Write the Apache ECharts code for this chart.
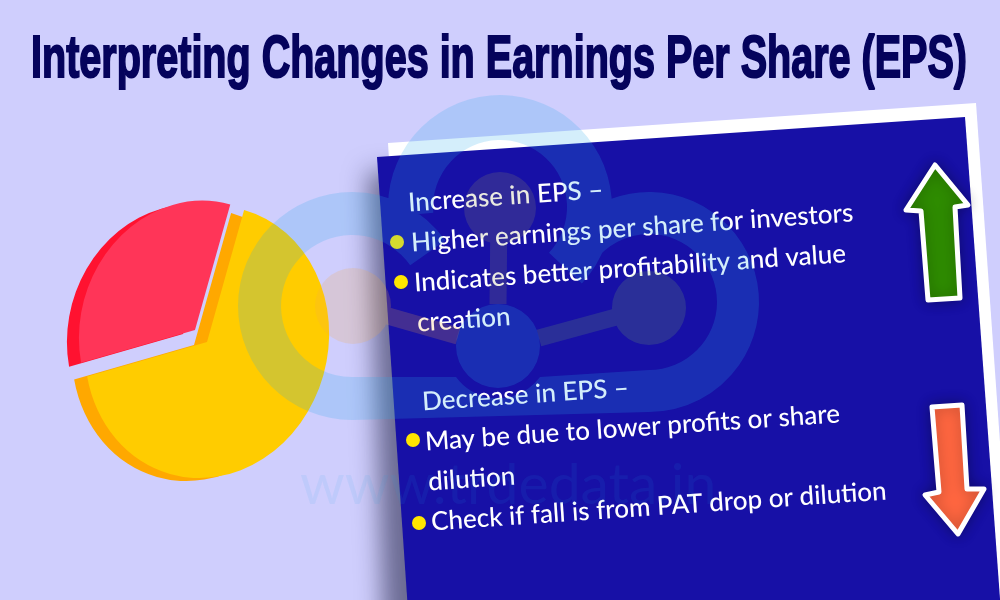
<!DOCTYPE html>
<html>
<head>
<meta charset="utf-8">
<style>html,body{margin:0;padding:0;background:#cfcefd}#chart{width:1000px;height:600px}</style>
<script src="https://cdn.jsdelivr.net/npm/echarts@6/dist/echarts.min.js"></script>
</head>
<body>
<div id="chart"></div>
<script>
var titleText = "Interpreting Changes in Earnings Per Share (EPS)";
var watermarkText = "www.trdedata.in";
var pieCategories = ["Red share", "Yellow share"];
var pieValues = [33, 67];
var panelLines = [
    "Increase in EPS \u2013",
    "Higher earnings per share for investors",
    "Indicates better profitability and value",
    "creation",
    "Decrease in EPS \u2013",
    "May be due to lower profits or share",
    "dilution",
    "Check if fall is from PAT drop or dilution"
];

// left end of each text baseline, same order as panelLines
var lineAnchors = [[409,216],[412,256],[415,296],[418,336],[423,415],[426,455],[429,495],[432,535]];
var bulletAnchors = [[397,242],[401,282],[413,440],[419,523]];
var tilt = Math.atan(0.068);

// the pie is drawn tilted in the original, so its slices are squashed sectors
function sliceLayer(index, cx, cy, radius, color) {
    return {
        type: "custom",
        coordinateSystem: "none",
        silent: true,
        dimensions: ["share"],
        data: pieValues.map(function (v, i) { return { name: pieCategories[i], value: [v] }; }),
        renderItem: function (params, api) {
            if (params.dataIndex !== index) return;
            var total = pieValues.reduce(function (s, v) { return s + v; }, 0);
            var before = pieValues.slice(0, index).reduce(function (s, v) { return s + v; }, 0);
            var toRad = Math.PI / 180;
            var end = -89.2 - before / total * 360;
            var start = end - api.value(0) / total * 360;
            return {
                type: "sector",
                x: cx,
                y: cy,
                rotation: -15 * toRad,
                scaleY: 1.133,
                shape: { cx: 0, cy: 0, r0: 0, r: radius, startAngle: start * toRad, endAngle: end * toRad, clockwise: true },
                style: { fill: color }
            };
        }
    };
}

// annular sector, always wound clockwise so overlaps stay a single flat fill
function ringD(cx, cy, R, r, from, to) {
    var a = from * Math.PI / 180, b = to * Math.PI / 180;
    var large = (to - from) > 180 ? 1 : 0;
    function p(rad, t) { return (cx + rad * Math.cos(t)).toFixed(1) + " " + (cy + rad * Math.sin(t)).toFixed(1); }
    return "M" + p(R, a) + " A" + R + " " + R + " 0 " + large + " 1 " + p(R, b) +
        " L" + p(r, b) + " A" + r + " " + r + " 0 " + large + " 0 " + p(r, a) + " Z ";
}
function circleD(cx, cy, r) {
    return "M" + (cx - r) + " " + cy + " A" + r + " " + r + " 0 1 1 " + (cx + r) + " " + cy +
        " A" + r + " " + r + " 0 1 1 " + (cx - r) + " " + cy + " Z ";
}
function barD(x1, y1, x2, y2, w) {
    var dx = x2 - x1, dy = y2 - y1, l = Math.sqrt(dx * dx + dy * dy);
    var nx = dy / l * w / 2, ny = -dx / l * w / 2;
    return "M" + (x1 + nx) + " " + (y1 + ny) + " L" + (x2 + nx) + " " + (y2 + ny) +
        " L" + (x2 - nx) + " " + (y2 - ny) + " L" + (x1 - nx) + " " + (y1 - ny) + " Z ";
}

echarts.graphic.registerShape("logoBlue", echarts.graphic.extendPath(
    ringD(352, 306, 114, 71, 90, 325) +
    ringD(500, 207, 112, 67, 175, 403) +
    ringD(649, 302, 110, 68, 215, 450) +
    "M352 377 L456 377 A52 52 0 0 0 540 377 L649 370 L649 412 L352 420 Z " +
    circleD(498, 346, 42)));
echarts.graphic.registerShape("logoLeft", echarts.graphic.extendPath(circleD(353, 306, 38) + barD(353, 306, 458, 336, 17)));
echarts.graphic.registerShape("logoTop", echarts.graphic.extendPath(circleD(500, 208, 36) + barD(499, 208, 498, 304, 17)));
echarts.graphic.registerShape("logoRight", echarts.graphic.extendPath(circleD(649, 308, 37) + barD(649, 308, 539, 338, 17)));

var graphics = [
    // panel drop shadow, the caster itself stays hidden under the panel
    { type: "polygon", z: 10, silent: true,
      shape: { points: [[412, 172], [500, 172], [500, 640], [428, 640]] },
      style: { fill: "#1710a6", shadowBlur: 24, shadowOffsetX: -44, shadowColor: "rgba(25,25,60,0.55)" } },
    { type: "polygon", z: 11, silent: true,
      shape: { points: [[388, 143], [976, 103], [1014, 640], [420, 640]] },
      style: { fill: "#ffffff" } },
    { type: "polygon", z: 12, silent: true,
      shape: { points: [[377, 157], [965, 117], [1003, 640], [410, 640]] },
      style: { fill: "#1710a6" } },
    { type: "polygon", z: 30, silent: true,
      shape: { points: [[935, 165], [968, 205], [955, 207], [960, 298], [928, 300], [921, 211], [906, 210]] },
      style: { fill: "#2e8b00", stroke: "#ffffff", lineWidth: 5, lineJoin: "round",
               shadowBlur: 14, shadowColor: "rgba(0,0,0,0.3)" } },
    { type: "polygon", z: 30, silent: true,
      shape: { points: [[932, 407], [962, 405], [967, 489], [984, 489], [958, 534], [925, 495], [939, 492]] },
      style: { fill: "#ff6640", stroke: "#ffffff", lineWidth: 5, lineJoin: "round",
               shadowBlur: 14, shadowColor: "rgba(0,0,0,0.3)" } },
    { type: "text", z: 30, silent: true, x: 499, y: 60, scaleX: 0.659,
      style: { text: titleText, fill: "#05035c", stroke: "#05035c", lineWidth: 2,
               font: "bold 60px 'Liberation Sans'",
               textAlign: "center", textVerticalAlign: "middle" } },
    { type: "logoBlue", z: 50, silent: true, style: { fill: "rgba(38,171,236,0.2)" } },
    { type: "logoLeft", z: 50, silent: true, style: { fill: "rgba(243,171,71,0.2)" } },
    { type: "logoTop", z: 50, silent: true, style: { fill: "rgba(150,150,100,0.2)" } },
    { type: "logoRight", z: 50, silent: true, style: { fill: "rgba(120,175,100,0.2)" } },
    { type: "text", z: 50, silent: true, x: 300, y: 486,
      style: { text: watermarkText, fill: "rgba(38,171,236,0.09)", font: "57px Lato",
               textAlign: "left", textVerticalAlign: "middle" } }
];

panelLines.forEach(function (line, i) {
    graphics.push({
        type: "text", z: 40, silent: true,
        x: lineAnchors[i][0], y: lineAnchors[i][1], rotation: tilt,
        style: { text: line, fill: "#ffffff", font: "500 26px Lato", textAlign: "left", textVerticalAlign: "bottom" }
    });
});
bulletAnchors.forEach(function (b) {
    graphics.push({
        type: "circle", z: 40, silent: true,
        shape: { cx: b[0], cy: b[1], r: 7 },
        style: { fill: "#ffe600" }
    });
});

var chart = echarts.init(document.getElementById("chart"));
chart.setOption({
    animation: false,
    backgroundColor: "#cfcefd",
    graphic: { elements: graphics },
    series: [
        sliceLayer(0, 183, 334, 115, "#ff1230"),
        sliceLayer(1, 194, 345, 121, "#ffa800"),
        sliceLayer(0, 195, 330, 115, "#ff3558"),
        sliceLayer(1, 207, 342, 121, "#ffcc00")
    ]
});
window.addEventListener("resize", function () { chart.resize(); });
</script>
</body>
</html>
